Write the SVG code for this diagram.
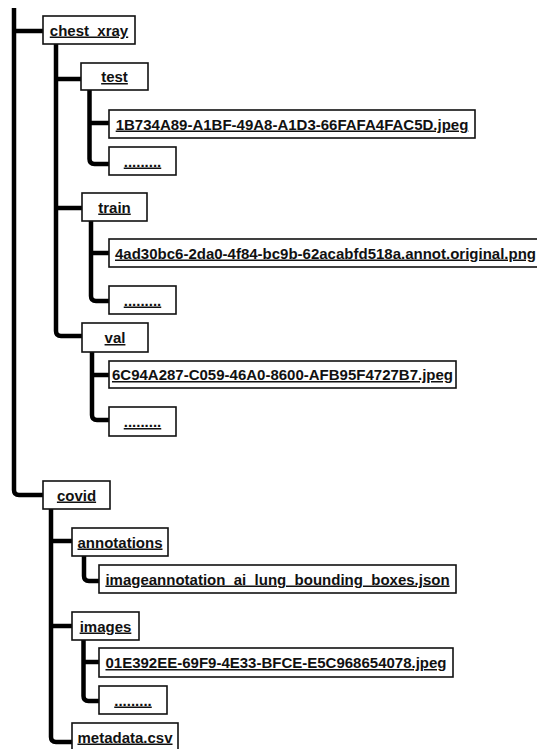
<svg xmlns="http://www.w3.org/2000/svg" width="537" height="749" viewBox="0 0 537 749">
<style>
.box{fill:#fff;stroke:#111;stroke-width:1.6}
.sh{fill:none;stroke:#9a9a9a;stroke-width:1}
.lbl{font-family:"Liberation Sans",Arial,sans-serif;font-weight:bold;font-size:15px;fill:#111;text-anchor:middle;text-decoration:underline}
.con{fill:none;stroke:#000;stroke-width:4.5;stroke-linecap:butt;stroke-linejoin:round}
</style>
<rect width="537" height="749" fill="#fff"/>
<g id="connectors">
<path class="con" d="M14,8 V490 Q14,495 19,495 H43"/>
<path class="con" d="M14,31 H43"/>
<path class="con" d="M56,44 V331 Q56,336 61,336 H82"/>
<path class="con" d="M56,79 H81"/>
<path class="con" d="M56,208 H82"/>
<path class="con" d="M89.5,90 V159 Q89.5,164 94.5,164 H109"/>
<path class="con" d="M89.5,123 H109"/>
<path class="con" d="M91,221 V296 Q91,301 96,301 H109"/>
<path class="con" d="M91,253 H109"/>
<path class="con" d="M92,352 V415 Q92,420 97,420 H109"/>
<path class="con" d="M92,375 H109"/>
<path class="con" d="M51,509 V737 Q51,742 56,742 H72"/>
<path class="con" d="M51,541 H72"/>
<path class="con" d="M51,626 H72"/>
<path class="con" d="M84,556 V576 Q84,581 89,581 H99"/>
<path class="con" d="M83.5,640 V696 Q83.5,701 88.5,701 H99"/>
<path class="con" d="M83.5,662 H99"/>
</g>
<g id="chest_xray"><rect class="box" x="43" y="16" width="92" height="28"/><text class="lbl" x="89" y="35.5">chest_xray</text></g>
<g id="test"><rect class="box" x="81" y="63" width="67" height="27"/><text class="lbl" x="114.5" y="82">test</text></g>
<g id="test_file"><rect class="box" x="109" y="110" width="366" height="28"/><text class="lbl" x="292" y="129.5">1B734A89-A1BF-49A8-A1D3-66FAFA4FAC5D.jpeg</text></g>
<g id="test_more"><rect class="box" x="109" y="147" width="67" height="28"/><text class="lbl" x="142.5" y="166.5">.........</text></g>
<g id="train"><rect class="box" x="82" y="193" width="65" height="28"/><text class="lbl" x="114.5" y="212.5">train</text></g>
<g id="train_file"><rect class="box" x="109" y="239" width="440" height="28"/><text class="lbl" x="325.5" y="258.5">4ad30bc6-2da0-4f84-bc9b-62acabfd518a.annot.original.png</text></g>
<g id="train_more"><rect class="box" x="109" y="286" width="67" height="28"/><text class="lbl" x="142.5" y="305.5">.........</text></g>
<g id="val"><rect class="box" x="82" y="323" width="66" height="29"/><text class="lbl" x="115" y="343">val</text></g>
<g id="val_file"><rect class="box" x="109" y="361" width="347" height="27"/><text class="lbl" x="282.5" y="380">6C94A287-C059-46A0-8600-AFB95F4727B7.jpeg</text></g>
<g id="val_more"><rect class="box" x="109" y="407" width="67" height="29"/><text class="lbl" x="142.5" y="427">.........</text></g>
<g id="covid"><rect class="box" x="43" y="481" width="67" height="28"/><text class="lbl" x="76.5" y="500.5">covid</text></g>
<g id="annotations"><rect class="box" x="72" y="528" width="96" height="28"/><text class="lbl" x="120" y="547.5">annotations</text></g>
<g id="annotations_file"><rect class="box" x="99" y="565" width="357" height="28"/><text class="lbl" x="277.5" y="584.5">imageannotation_ai_lung_bounding_boxes.json</text></g>
<g id="images"><rect class="box" x="72" y="612" width="67" height="28"/><text class="lbl" x="105.5" y="631.5">images</text></g>
<g id="images_file"><rect class="box" x="99" y="648" width="354" height="29"/><text class="lbl" x="276" y="668">01E392EE-69F9-4E33-BFCE-E5C968654078.jpeg</text></g>
<g id="images_more"><rect class="box" x="99" y="686" width="68" height="28"/><text class="lbl" x="133" y="705.5">.........</text></g>
<g id="metadata"><rect class="box" x="72" y="723" width="106" height="27"/><text class="lbl" x="125" y="742.5">metadata.csv</text></g>
</svg>
